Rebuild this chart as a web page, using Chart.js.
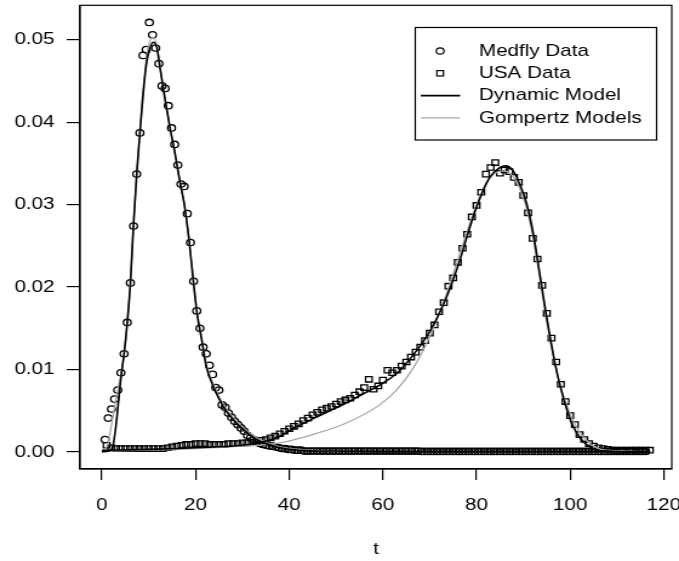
<!DOCTYPE html>
<html>
<head>
<meta charset="utf-8">
<title>Medfly and USA mortality</title>
<script src="https://cdn.jsdelivr.net/npm/chart.js@4.4.1/dist/chart.umd.min.js"></script>
<style>
  html, body { margin: 0; padding: 0; background: #fff; overflow: hidden; }
  /* the reference is a square R plot stretched sideways */
  #wrap { width: 560px; height: 561px; transform: scale(1.2125, 1); transform-origin: 0 0; }
</style>
</head>
<body>
<div id="wrap"><canvas id="chart"></canvas></div>
<script>
// Medfly data: one value per day, days put on the t scale
const MEDFLY_T_STEP = 0.675;
const medflyValues = [
  0.0015, 0.0041, 0.0052, 0.0064, 0.0075, 0.0096, 0.0119, 0.0157, 0.0205, 0.0274,
  0.0337, 0.0387, 0.0481, 0.0488, 0.0521, 0.0506, 0.0490, 0.0471, 0.0444, 0.0441,
  0.0420, 0.0393, 0.0373, 0.0348, 0.0325, 0.0322, 0.0289, 0.0254, 0.0207, 0.0171,
  0.0150, 0.0127, 0.0119, 0.0105, 0.0094, 0.0078, 0.0075, 0.0057, 0.0054, 0.0047,
  0.0042, 0.0037, 0.0033, 0.0029, 0.0025, 0.0020, 0.0017, 0.0015, 0.0012, 0.0010,
  0.0009, 0.0008, 0.0007, 0.0007, 0.0006, 0.0005, 0.0004, 0.0004, 0.0003, 0.0003,
  0.0002, 0.0002, 0.0002, 0.0001, 0.0001, 0.0001, 0.0001, 0.0001, 0.0001, 0.0001,
  0.0001, 0.0001, 0.0001, 0.0001, 0.0001, 0.0001, 0.0001, 0.0001, 0.0001, 0.0001,
  0.0001, 0.0001, 0.0001, 0.0001, 0.0001, 0.0001, 0.0001, 0.0001, 0.0001, 0.0001,
  0.0001, 0.0001, 0.0001, 0.0001, 0.0001, 0.0001, 0.0001, 0.0001, 0.0001, 0.0001,
  0.00005, 0.00005, 0.00005, 0.00005, 0.00005, 0.00005, 0.00005, 0.00005, 0.00005, 0.00005,
  0.00005, 0.00005, 0.00005, 0.00005, 0.00005, 0.00005, 0.00005, 0.00005, 0.00005, 0.00005,
  0.00005, 0.00005, 0.00005, 0.00005, 0.00005, 0.00005, 0.00005, 0.00005, 0.00005, 0.00005,
  0.00005, 0.00005, 0.00005, 0.00005, 0.00005, 0.00005, 0.00005, 0.00005, 0.00005, 0.00005,
  0.00005, 0.00005, 0.00005, 0.00005, 0.00005, 0.00005, 0.00005, 0.00005, 0.00005, 0.00005,
  0.00005, 0.00005, 0.00005, 0.00005, 0.00005, 0.00005, 0.00005, 0.00005, 0.00005, 0.00005,
  0.00005, 0.00005, 0.00005, 0.00005, 0.00005, 0.00005, 0.00005, 0.00005, 0.00005, 0.00005,
  0.00005, 0.00005
];

// USA data, ages 1..117
const usaAges = [];
for (let a = 1; a <= 117; a++) usaAges.push(a);
const usaValues = [
  0.0008, 0.0005, 0.0004, 0.0004, 0.0004, 0.0004, 0.0004, 0.0004, 0.0004, 0.0004,
  0.0004, 0.0004, 0.0004, 0.0005, 0.0006, 0.0007, 0.0008, 0.0009, 0.0009, 0.0010,
  0.0010, 0.0010, 0.0009, 0.0009, 0.0009, 0.0009, 0.0010, 0.0010, 0.0010, 0.0011,
  0.0011, 0.0012, 0.0013, 0.0014, 0.0015, 0.0017, 0.0019, 0.0022, 0.0025, 0.0028,
  0.0031, 0.0034, 0.0038, 0.0041, 0.0045, 0.0048, 0.0051, 0.0053, 0.0055, 0.0058,
  0.0061, 0.0063, 0.0065, 0.0069, 0.0073, 0.0078, 0.0088, 0.0076, 0.0080, 0.0087,
  0.0099, 0.0096, 0.0099, 0.0104, 0.0109, 0.0115, 0.0121, 0.0127, 0.0135, 0.0144,
  0.0154, 0.0170, 0.0181, 0.0201, 0.0211, 0.0230, 0.0247, 0.0264, 0.0285, 0.0299,
  0.0315, 0.0337, 0.0345, 0.0351, 0.0338, 0.0342, 0.0340, 0.0333, 0.0327, 0.0311,
  0.0290, 0.0259, 0.0234, 0.0202, 0.0168, 0.0138, 0.0109, 0.0082, 0.0061, 0.0044,
  0.0033, 0.0021, 0.0015, 0.0010, 0.0007, 0.0005, 0.0004, 0.0003, 0.0002, 0.0002,
  0.0002, 0.0002, 0.0002, 0.0002, 0.0002, 0.0002, 0.0002
];

// model curves
const medflyDynT = [0, 1.5, 2.3, 3.0, 3.6, 4.1, 4.75, 5.4, 6.08, 6.75, 7.43, 8.1, 8.8, 9.5, 10.2, 10.95, 11.7, 12.4, 13.4, 14.5,
  15.6, 16.6, 17.6, 18.6, 19.5, 20.3, 21.3, 22.3, 23.8, 25.9, 28, 30.2, 33, 37.3, 42, 50, 60, 80, 117];
const medflyDynV = [0, 0.0001, 0.0006, 0.0032, 0.0065, 0.0092, 0.0120, 0.0157, 0.0205, 0.0277, 0.0337, 0.0387, 0.0434, 0.0471, 0.0489, 0.0497, 0.0491, 0.0466, 0.0430, 0.0394,
  0.0362, 0.0329, 0.0300, 0.0257, 0.0208, 0.0168, 0.0136, 0.0103, 0.0079, 0.0055, 0.0039, 0.0027, 0.0015, 0.0006, 0.0002, 0.0001, 0, 0, 0];

const medflyGompT = [0, 0.7, 1.3, 2.1, 2.8, 3.5, 4.1, 4.75, 5.4, 6.08, 6.75, 7.43, 8.1, 8.8, 9.5, 10.2, 11.0, 11.7, 12.4, 13.4,
  14.5, 15.6, 16.6, 17.6, 18.6, 19.5, 20.3, 21.3, 22.3, 23.8, 25.9, 28, 30.2, 33, 37.3, 42, 50, 60, 117];
const medflyGompV = [0.0001, 0.0004, 0.0011, 0.0035, 0.0058, 0.0078, 0.0096, 0.0120, 0.0155, 0.0205, 0.0277, 0.0338, 0.0390, 0.0440, 0.0478, 0.0498, 0.0503, 0.0494, 0.0468, 0.0431,
  0.0395, 0.0362, 0.0330, 0.0300, 0.0258, 0.0210, 0.0171, 0.0139, 0.0107, 0.0082, 0.0058, 0.0042, 0.0029, 0.0017, 0.0007, 0.0003, 0.0001, 0, 0];

const usaDynT = [0, 10, 20, 30, 35, 38, 41, 45, 48, 52, 56, 59.3, 62.9, 66.4, 70, 73.6, 76.4, 78, 80, 82.8,
  85, 86.2, 87.8, 89.2, 90.7, 92.1, 93.5, 94.9, 96.7, 97.8, 99.2, 100.6, 102.4, 104.2, 106, 108, 112, 117];
const usaDynV = [0.0002, 0.0003, 0.0005, 0.0008, 0.0013, 0.0019, 0.0029, 0.0040, 0.0048, 0.0059, 0.0071, 0.0081, 0.0095, 0.0117, 0.0146, 0.0188, 0.0232, 0.0262, 0.0297, 0.0333,
  0.0345, 0.0347, 0.0341, 0.0325, 0.0301, 0.0265, 0.0216, 0.0166, 0.0109, 0.0081, 0.0053, 0.0031, 0.0015, 0.0006, 0.0002, 0.0001, 0, 0];

const usaGompT = [0, 10, 20, 30, 38, 45, 52.2, 59.3, 62.9, 66.4, 70, 73.6, 75.7, 78, 80, 82.5, 85.5, 87.5, 89.2, 90.7,
  92.1, 93.5, 94.9, 96.7, 98, 100, 102, 104, 106, 108, 112, 117];
const usaGompV = [0.0001, 0.0002, 0.0004, 0.0007, 0.0011, 0.0021, 0.0035, 0.0057, 0.0075, 0.0101, 0.0140, 0.0192, 0.0228, 0.0268, 0.0300, 0.0330, 0.0341, 0.0336, 0.0320, 0.0295,
  0.0258, 0.0210, 0.0160, 0.0108, 0.0078, 0.0046, 0.0024, 0.0011, 0.0004, 0.0002, 0.0001, 0];

// axes
const xTicks = [0, 20, 40, 60, 80, 100, 120];
const yTicks = [0, 0.01, 0.02, 0.03, 0.04, 0.05];
const X_MIN = -4.68, X_MAX = 121.68;
const Y_MIN = -0.00208, Y_MAX = 0.05418;

const legendLabels = ['Medfly Data', 'USA Data', 'Dynamic Model', 'Gompertz Models'];

const FONT = '"Liberation Sans", Arial, Helvetica, sans-serif';
const GRAY = '#a8a8a8';
const BLACK_LW = 1.6;
const GRAY_LW = 1.3;

const toPoints = (xs, ys) => xs.map((x, i) => ({ x, y: ys[i] }));

// box around the plot region + legend, like R's bty="o"
const boxPlugin = {
  id: 'rbox',
  afterDraw(chart) {
    const { ctx, chartArea: a } = chart;
    ctx.save();
    ctx.strokeStyle = '#000';
    ctx.lineWidth = 1.2;
    ctx.strokeRect(a.left, a.top, a.right - a.left, a.bottom - a.top);

    // legend
    const lx = 342.5, ly = 27.5, lw = 199, lh = 112.5;
    ctx.fillStyle = '#fff';
    ctx.fillRect(lx, ly, lw, lh);
    ctx.strokeRect(lx, ly, lw, lh);
    ctx.font = '17px ' + FONT;
    ctx.fillStyle = '#000';
    ctx.textAlign = 'left';
    ctx.textBaseline = 'middle';
    legendLabels.forEach((label, i) => {
      const y = 51 + i * 22.3;
      ctx.fillText(label, 395, y);
      ctx.beginPath();
      ctx.lineWidth = 1.2;
      if (i === 0) {
        ctx.arc(363, y, 3.2, 0, Math.PI * 2);
        ctx.strokeStyle = '#000';
        ctx.stroke();
      } else if (i === 1) {
        ctx.strokeStyle = '#000';
        ctx.strokeRect(360.3, y - 2.7, 5.4, 5.4);
      } else {
        ctx.moveTo(347, y);
        ctx.lineTo(379.5, y);
        ctx.strokeStyle = i === 2 ? '#000' : GRAY;
        ctx.lineWidth = i === 2 ? BLACK_LW : GRAY_LW;
        ctx.stroke();
      }
    });
    ctx.restore();
  }
};

const axisFont = { family: FONT, size: 17 };

new Chart(document.getElementById('chart'), {
  type: 'scatter',
  data: {
    datasets: [
      {
        label: 'Dynamic Model (Medfly)',
        data: toPoints(medflyDynT, medflyDynV),
        showLine: true, pointRadius: 0, borderColor: '#000', borderWidth: BLACK_LW,
        cubicInterpolationMode: 'monotone', order: 0
      },
      {
        label: 'Dynamic Model (USA)',
        data: toPoints(usaDynT, usaDynV),
        showLine: true, pointRadius: 0, borderColor: '#000', borderWidth: BLACK_LW,
        cubicInterpolationMode: 'monotone', order: 0
      },
      {
        label: 'Gompertz Model (Medfly)',
        data: toPoints(medflyGompT, medflyGompV),
        showLine: true, pointRadius: 0, borderColor: GRAY, borderWidth: GRAY_LW,
        cubicInterpolationMode: 'monotone', order: 1
      },
      {
        label: 'Gompertz Model (USA)',
        data: toPoints(usaGompT, usaGompV),
        showLine: true, pointRadius: 0, borderColor: GRAY, borderWidth: GRAY_LW,
        cubicInterpolationMode: 'monotone', order: 1
      },
      {
        label: 'Medfly Data',
        data: medflyValues.map((v, i) => ({ x: (i + 1) * MEDFLY_T_STEP, y: v })),
        pointStyle: 'circle', pointRadius: 3.2, borderWidth: 1.3,
        borderColor: '#000', backgroundColor: 'rgba(0,0,0,0)', order: 2
      },
      {
        label: 'USA Data',
        data: toPoints(usaAges, usaValues),
        pointStyle: 'rect', pointRadius: 3.8, borderWidth: 1.3,
        borderColor: '#000', backgroundColor: 'rgba(0,0,0,0)', order: 2
      }
    ]
  },
  options: {
    responsive: true,
    maintainAspectRatio: false,
    animation: false,
    layout: { padding: { top: 5, right: 6, bottom: 0, left: 0 } },
    plugins: { legend: { display: false }, tooltip: { enabled: false } },
    scales: {
      x: {
        type: 'linear', min: X_MIN, max: X_MAX,
        grid: { display: true, drawOnChartArea: false, drawTicks: true, tickLength: 11, color: '#000', lineWidth: 1.2 },
        border: { display: true, color: '#000', width: 1.2 },
        ticks: { color: '#000', font: axisFont, padding: 15, maxRotation: 0, autoSkip: false,
          callback: v => String(v) },
        title: { display: true, text: 't', color: '#000', font: axisFont, padding: { top: 0, bottom: 1 } },
        afterBuildTicks: s => { s.ticks = xTicks.map(v => ({ value: v })); },
        afterFit: s => { s.height = 92; s.paddingLeft = 0; s.paddingRight = 0; }
      },
      y: {
        type: 'linear', min: Y_MIN, max: Y_MAX,
        grid: { display: true, drawOnChartArea: false, drawTicks: true, tickLength: 11, color: '#000', lineWidth: 1.2 },
        border: { display: true, color: '#000', width: 1.2 },
        ticks: { color: '#000', font: axisFont, padding: 10, autoSkip: false,
          callback: v => v.toFixed(2) },
        afterBuildTicks: s => { s.ticks = yTicks.map(v => ({ value: v })); },
        afterFit: s => { s.width = 66; s.paddingTop = 0; s.paddingBottom = 0; }
      }
    }
  },
  plugins: [boxPlugin]
});
</script>
</body>
</html>
